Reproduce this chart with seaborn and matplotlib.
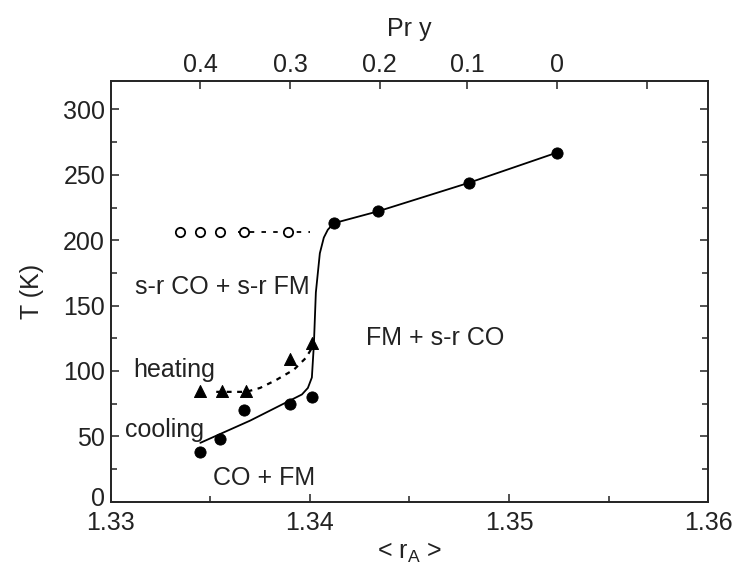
import numpy as np
import pandas as pd
import seaborn as sns
from matplotlib import pyplot as plt
from matplotlib.transforms import ScaledTranslation

# data (x = <r_A>, y = T in K)
cool_r = [1.3345, 1.3355, 1.3367, 1.3390, 1.3401]
cool_t = [38, 48, 70, 75, 80]
heat_r = [1.3345, 1.3356, 1.3368, 1.3390, 1.3401]
heat_t = [85, 85, 85, 109, 121]
fm_r = [1.3412, 1.3434, 1.3480, 1.3524]
fm_t = [213, 222, 244, 267]
open_r = [1.3335, 1.3345, 1.3355, 1.3367, 1.3389]
open_t = [206, 206, 206, 206, 206]

# hand-drawn guide lines
solid_r = [1.3345, 1.3370, 1.3396, 1.3399, 1.3401, 1.3402, 1.3403, 1.3405, 1.3407, 1.3409, 1.3412,
           1.3434, 1.3480, 1.3524]
solid_t = [45, 62, 82, 87, 95, 120, 160, 190, 202, 208, 213, 222, 244, 267]
dash_r = [1.3353, 1.3368, 1.3375, 1.3383, 1.3392, 1.3398, 1.3402]
dash_t = [84, 84, 87, 93, 101, 110, 120]
flat_r = [1.3364, 1.3400]
flat_t = [206, 206]

pr_ticks = ['0.4', '0.3', '0.2', '0.1', '0', '']
pr_tick_r = [1.3345, 1.3390, 1.3435, 1.3479, 1.3524, 1.3569]

FS = 18

sns.set_theme(style='ticks')
plt.rcParams['font.family'] = ['Liberation Sans', 'DejaVu Sans']
plt.rcParams['xtick.direction'] = 'in'
plt.rcParams['ytick.direction'] = 'in'

fig = plt.figure(figsize=(7.32, 5.74), dpi=100)
ax = fig.add_axes([0.1512, 0.126, 0.8164, 0.7334])

sns.lineplot(x=solid_r, y=solid_t, ax=ax, color='black', lw=1.3, sort=False, estimator=None)
sns.lineplot(x=dash_r, y=dash_t, ax=ax, color='black', lw=1.6, sort=False, estimator=None,
             linestyle=(0, (2.2, 2.5)))
sns.lineplot(x=flat_r, y=flat_t, ax=ax, color='black', lw=1.3, sort=False, estimator=None,
             linestyle=(0, (2.5, 4)))

sns.scatterplot(x=cool_r + fm_r, y=cool_t + fm_t, ax=ax, color='black', marker='o', s=65,
                edgecolor='black', zorder=3)
sns.scatterplot(x=heat_r, y=heat_t, ax=ax, color='black', marker='^', s=75,
                edgecolor='black', zorder=3)
sns.scatterplot(x=open_r, y=open_t, ax=ax, marker='o', s=45, facecolor='white',
                edgecolor='black', linewidth=1.3, zorder=3)

ax.set_xlim(1.33, 1.36)
ax.set_ylim(0, 322)
ax.set_xticks([1.33, 1.34, 1.35, 1.36])
ax.set_xticks([1.335, 1.345, 1.355], minor=True)
ax.set_xticklabels(['1.33', '1.34', '1.35', '1.36'])
ax.set_yticks([0, 50, 100, 150, 200, 250, 300])
ax.set_yticks(np.arange(25, 322, 50), minor=True)
ax.tick_params(which='both', top=False, right=True, labelsize=FS, width=1.1, color='#222222',
               labelcolor='#222222')
ax.tick_params(which='major', length=6)
ax.tick_params(which='minor', length=4)
ax.tick_params(axis='x', pad=7)
ax.tick_params(axis='y', pad=4)
for s in ax.spines.values():
    s.set_linewidth(1.3)
    s.set_color('#222222')

# nudge the "0" up a little so it does not sit on "1.33"
zero_lbl = ax.get_yticklabels()[0]
zero_lbl.set_transform(zero_lbl.get_transform() + ScaledTranslation(0, 4 / 72, fig.dpi_scale_trans))

ax.set_xlabel(r'< r$_\mathregular{A}$ >', fontsize=FS, color='#222222', labelpad=4)
ax.set_ylabel('T (K)', fontsize=FS, color='#222222', labelpad=14)

ax2 = ax.twiny()
ax2.set_xlim(ax.get_xlim())
ax2.set_xticks(pr_tick_r)
ax2.set_xticklabels(pr_ticks)
ax2.tick_params(direction='in', length=6, width=1.1, labelsize=FS, pad=3, color='#222222',
                labelcolor='#222222')
ax2.set_xlabel('Pr y', fontsize=FS, color='#222222', labelpad=12)

txt = dict(fontsize=FS, color='#222222', ha='center', va='center')
ax.text(1.3356, 164, 's-r CO + s-r FM', **txt)
ax.text(1.3332, 101, 'heating', **txt)
ax.text(1.3327, 55, 'cooling', **txt)
ax.text(1.3377, 18, 'CO + FM', **txt)
ax.text(1.3463, 125, 'FM + s-r CO', **txt)

fig.savefig('out.png', dpi=100)
